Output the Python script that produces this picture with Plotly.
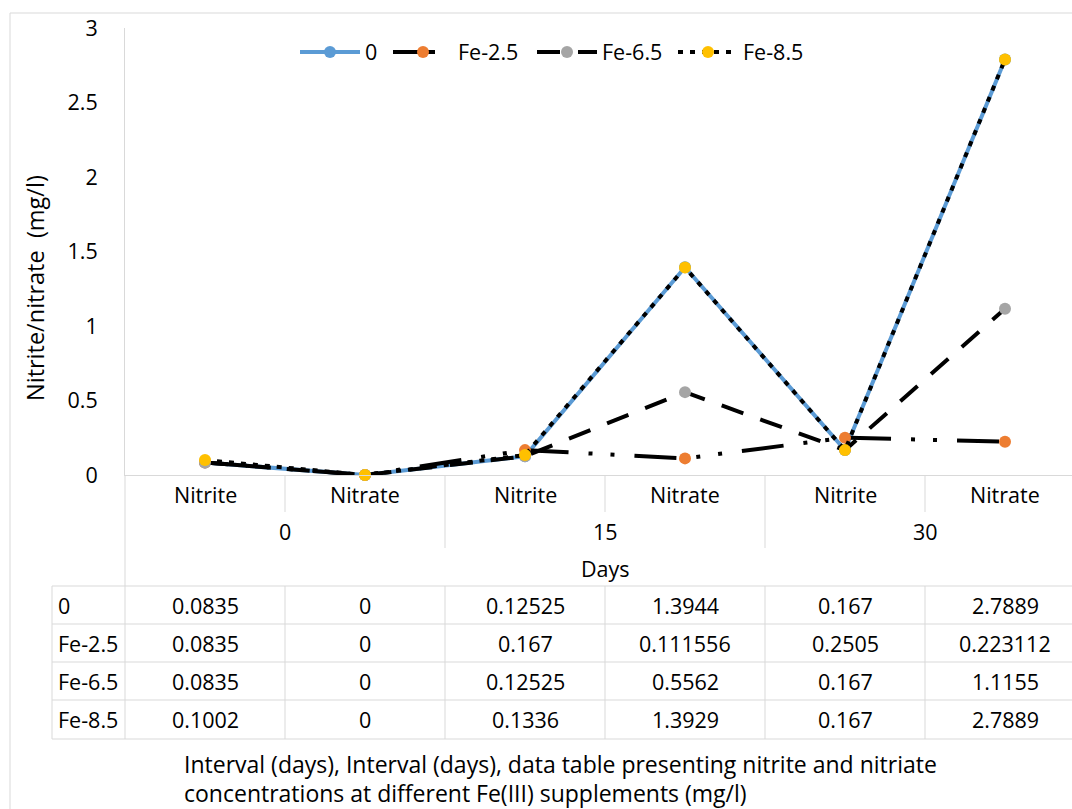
import plotly.graph_objects as go

# ---- data -------------------------------------------------------------
categories = ["Nitrite", "Nitrate", "Nitrite", "Nitrate", "Nitrite", "Nitrate"]
day_groups = ["0", "15", "30"]
series_names = ["0", "Fe-2.5", "Fe-6.5", "Fe-8.5"]
fe_0 = [0.0835, 0, 0.12525, 1.3944, 0.167, 2.7889]
fe_2_5 = [0.0835, 0, 0.167, 0.111556, 0.2505, 0.223112]
fe_6_5 = [0.0835, 0, 0.12525, 0.5562, 0.167, 1.1155]
fe_8_5 = [0.1002, 0, 0.1336, 1.3929, 0.167, 2.7889]
y_ticks = [0, 0.5, 1, 1.5, 2, 2.5, 3]
y_tick_labels = ["0", "0.5", "1", "1.5", "2", "2.5", "3"]
table_text = {
    "0": ["0.0835", "0", "0.12525", "1.3944", "0.167", "2.7889"],
    "Fe-2.5": ["0.0835", "0", "0.167", "0.111556", "0.2505", "0.223112"],
    "Fe-6.5": ["0.0835", "0", "0.12525", "0.5562", "0.167", "1.1155"],
    "Fe-8.5": ["0.1002", "0", "0.1336", "1.3929", "0.167", "2.7889"],
}
caption_lines = [
    "Interval (days), Interval (days), data table presenting nitrite and nitriate",
    "concentrations at different Fe(III) supplements (mg/l)",
]

# ---- page geometry (pixels) ------------------------------------------
W, H = 1072, 809
PL, PT, PB = 125, 28, 475          # plot-area left, top, bottom
COL = 160                          # width of one category column
PW = W - PL
PH = PB - PT
FONT = "Open Sans"
FS = 21.5
FS_TITLE = 23.5
FS_CAPTION = 23
GRID = "#D9D9D9"


def px(x):
    return (x - PL) / PW


def py(y):
    return (PB - y) / PH


x_pos = list(range(len(categories)))
values = [fe_0, fe_2_5, fe_6_5, fe_8_5]
line_styles = [
    dict(color="#5B9BD5", width=4, dash="solid"),
    dict(color="#000000", width=4, dash="42px,20px,4px,18px,4px,20px"),
    dict(color="#000000", width=4, dash="23px,18px"),
    dict(color="#000000", width=4, dash="5px,7px"),
]
marker_colors = ["#5B9BD5", "#ED7D31", "#A5A5A5", "#FFC000"]
legend_ids = ["legend", "legend2", "legend3", "legend4"]
legend_x = [295, 388, 532, 673]

fig = go.Figure()
for name, vals, ls, mc, lid in zip(series_names, values, line_styles,
                                   marker_colors, legend_ids):
    fig.add_trace(go.Scatter(
        x=x_pos, y=vals, name=name, mode="lines+markers",
        line=ls, marker=dict(color=mc, size=12, line=dict(width=0)),
        legend=lid, cliponaxis=False,
    ))

shapes = []
annotations = []


def hline(x0, x1, y):
    shapes.append(dict(type="line", xref="paper", yref="paper",
                       x0=px(x0), x1=px(x1), y0=py(y), y1=py(y),
                       line=dict(color=GRID, width=1)))


def vline(x, y0, y1):
    shapes.append(dict(type="line", xref="paper", yref="paper",
                       x0=px(x), x1=px(x), y0=py(y0), y1=py(y1),
                       line=dict(color=GRID, width=1)))


def text(x, y, s, anchor="center", angle=0, size=FS):
    annotations.append(dict(xref="paper", yref="paper", x=px(x), y=py(y),
                            text=s, showarrow=False, xanchor=anchor,
                            yanchor="middle", textangle=angle,
                            font=dict(family=FONT, size=size, color="#000000")))


# outer chart border
shapes.append(dict(type="rect", xref="paper", yref="paper",
                   x0=px(10), x1=px(W + 20), y0=py(13), y1=py(H + 20),
                   line=dict(color=GRID, width=1)))

# category header: inner separators, group separators
col_edges = [PL + i * COL for i in range(len(categories) + 1)]
for i, xe in enumerate(col_edges[1:], start=1):
    if i % 2 == 1:
        vline(xe, PB, 512)
    else:
        vline(xe, PB, 548)
vline(PL, PB, 739)

for i, cat in enumerate(categories):
    text(PL + COL * i + COL / 2, 494, cat)
for g, day in enumerate(day_groups):
    text(PL + COL * (2 * g + 1), 531, day)
text(PL + COL * 3, 568, "Days")

# data table
row_lines = [586, 624, 662, 700, 739]
for yl in row_lines:
    hline(52, W + 20, yl)
vline(52, 586, 739)
for xe in col_edges[1:]:
    vline(xe, 586, 739)
for r, name in enumerate(series_names):
    yc = (row_lines[r] + row_lines[r + 1]) / 2
    text(56, yc, name, anchor="left")
    for c, s in enumerate(table_text[name]):
        text(PL + COL * c + COL / 2, yc, s)

# y-axis title and caption
text(35, 288, "Nitrite/nitrate  (mg/l)", angle=-90, size=FS_TITLE)
text(182, 764, caption_lines[0], anchor="left", size=FS_CAPTION)
text(182, 793, caption_lines[1], anchor="left", size=FS_CAPTION)

layout_legends = {}
for lid, lx in zip(legend_ids, legend_x):
    layout_legends[lid] = dict(
        x=px(lx), y=py(52), xanchor="left", yanchor="middle",
        orientation="h", bgcolor="rgba(0,0,0,0)", itemwidth=60,
        font=dict(family=FONT, size=FS, color="#000000"),
    )

fig.update_layout(
    width=W, height=H,
    margin=dict(l=PL, r=0, t=PT, b=H - PB, pad=0),
    paper_bgcolor="white", plot_bgcolor="white",
    font=dict(family=FONT, size=FS, color="#000000"),
    showlegend=True,
    xaxis=dict(range=[-0.5, -0.5 + PW / COL], showticklabels=False,
               showgrid=False, zeroline=False, showline=True,
               linecolor=GRID, linewidth=1, ticks=""),
    yaxis=dict(range=[0, 3], tickvals=y_ticks, ticktext=y_tick_labels,
               showgrid=False, zeroline=False, showline=True,
               linecolor=GRID, linewidth=1, ticks="",
               ticklabelstandoff=22,
               tickfont=dict(family=FONT, size=FS, color="#000000")),
    shapes=shapes,
    annotations=annotations,
    **layout_legends,
)

fig.write_html("out.html", config={"displayModeBar": False})
